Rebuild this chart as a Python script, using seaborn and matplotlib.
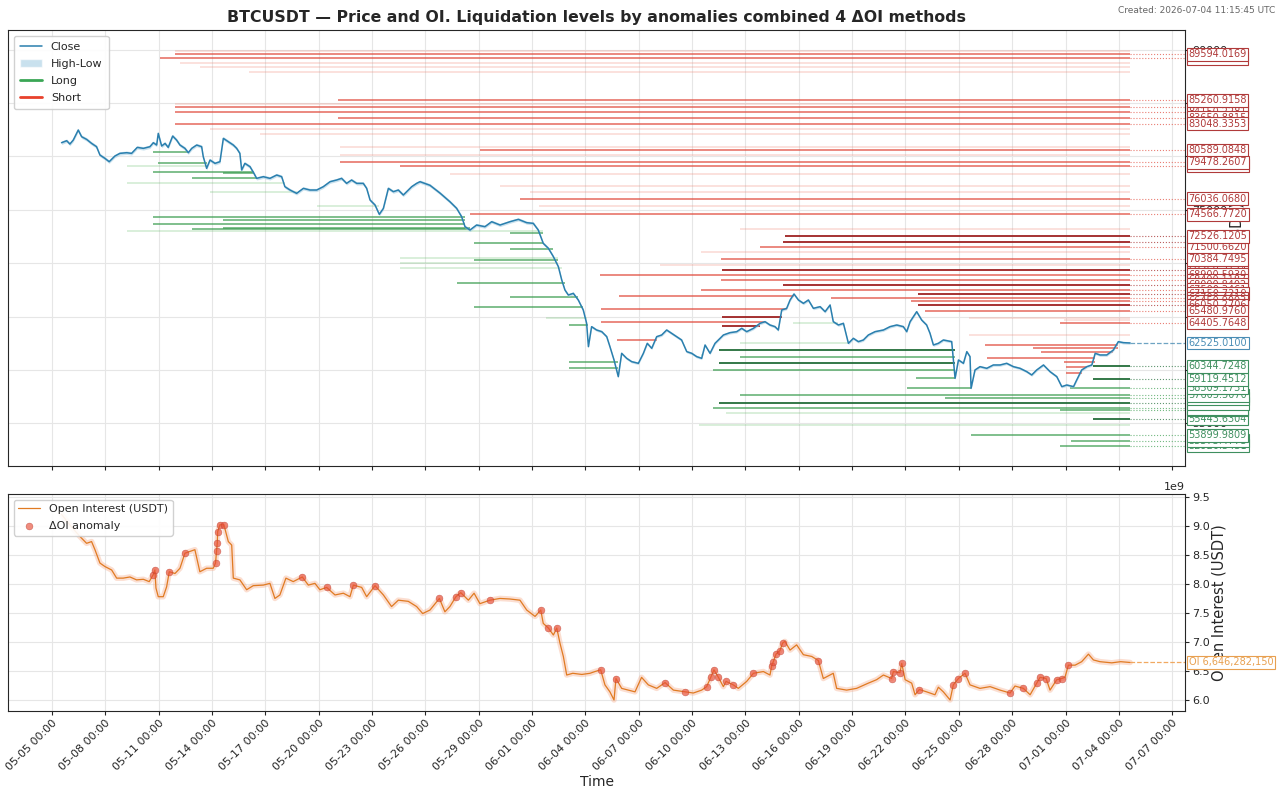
import numpy as np
import pandas as pd
import matplotlib
matplotlib.use("Agg")
import matplotlib.pyplot as plt
import matplotlib.dates as mdates
import matplotlib.transforms as mtransforms
from matplotlib.lines import Line2D
from matplotlib.patches import Patch
import seaborn as sns

# ---- data ----
base = pd.Timestamp("2026-05-05 00:00")

# close price: time in days since 05-05 00:00
price_days = [
    0.54, 0.83, 1.01, 1.20, 1.48, 1.67, 1.95, 2.23, 2.51, 2.70,
    2.98, 3.22, 3.54, 3.82, 4.20, 4.48, 4.80, 5.14, 5.51, 5.70,
    5.89, 5.98, 6.17, 6.36, 6.54, 6.79, 7.01, 7.20, 7.48, 7.67,
    7.86, 8.14, 8.42, 8.51, 8.70, 8.89, 9.17, 9.45, 9.64, 9.92,
    10.20, 10.39, 10.57, 10.67, 10.85, 11.14, 11.36, 11.51, 11.89, 12.26,
    12.64, 12.92, 13.10, 13.39, 13.76, 14.14, 14.51, 14.89, 15.26, 15.64,
    16.01, 16.29, 16.57, 16.85, 17.14, 17.51, 17.70, 17.89, 18.17, 18.41,
    18.64, 18.92, 19.20, 19.48, 19.76, 19.95, 20.23, 20.51, 20.70, 21.26,
    21.82, 22.38, 22.76, 23.04, 23.23, 23.51, 23.88, 24.35, 24.73, 25.20,
    25.76, 26.23, 26.70, 27.07, 27.35, 27.63, 27.92, 28.20, 28.48, 28.67,
    28.85, 29.04, 29.32, 29.60, 29.88, 30.07, 30.17, 30.35, 30.63, 30.92,
    31.20, 31.38, 31.61, 31.85, 32.04, 32.32, 32.60, 32.98, 33.26, 33.48,
    33.73, 34.01, 34.29, 34.57, 34.85, 35.13, 35.41, 35.70, 35.98, 36.26,
    36.54, 36.73, 37.01, 37.29, 37.76, 38.13, 38.51, 38.79, 39.07, 39.45,
    39.82, 40.10, 40.38,
    40.66, 40.85, 41.04, 41.32, 41.51, 41.73, 41.98, 42.26, 42.54, 42.82,
    43.20, 43.48, 43.76, 43.94, 44.23, 44.51, 44.79, 45.07, 45.35, 45.63,
    45.91, 46.29, 46.76, 47.13, 47.51, 47.88, 48.07, 48.26, 48.63, 48.91,
    49.19, 49.38, 49.57, 49.85, 50.13, 50.60, 50.79, 50.98, 51.26, 51.45,
    51.63, 51.69, 51.91, 52.19, 52.57, 52.94, 53.32, 53.69, 54.07, 54.44,
    54.82, 55.10, 55.38, 55.76, 56.13, 56.51, 56.79, 57.07, 57.45, 57.63,
    57.91, 58.20, 58.48, 58.67, 58.94, 59.32, 59.69, 59.97, 60.25, 60.63,
]
price_close = [
    81290, 81477, 81165, 81540, 82477, 81852, 81603, 81228, 80915, 80135,
    79823, 79510, 80041, 80291, 80353, 80291, 80853, 80760, 80915, 81290,
    81072, 82165, 80978, 81228, 80853, 81915, 81540, 81072, 80760, 80353,
    80760, 81072, 80915, 79979, 78886, 79667, 79355, 79510, 81697, 81384,
    81072, 80760, 80291, 78730, 79355, 79042, 78418, 77950, 78106, 77950,
    78262, 78106, 77169, 76857, 76545, 77013, 76857, 76857, 77169, 77637,
    77794, 77950, 77481, 77794, 77481, 77481, 77013, 75920, 75452, 74578,
    75140, 77013, 76701, 76857, 76389, 76701, 77169, 77481, 77637, 77300,
    76575, 75763, 75140, 74359, 73422, 73110, 73578, 73422, 73890, 73578,
    73890, 74109, 73797, 73734, 73110, 71861, 71393, 70612, 69675, 68425,
    67488, 67020, 67177, 66553, 65616, 64367, 62181, 64055, 63742, 63586,
    63118, 62181, 60932, 59371, 61557, 61089, 60777, 60621, 61557, 62494,
    62025, 63118, 63274, 63742, 63430, 63118, 62806, 61713, 61557, 61245,
    61089, 62338, 61557, 62494, 63274, 63492, 63586, 63898, 63586, 63898,
    64367, 64523, 64211,
    64055, 63742, 65616, 65772, 66553, 67115, 66553, 66241, 66553, 65772,
    65928, 65460, 66085, 64523, 64211, 64367, 62494, 62962, 62650, 62806,
    63274, 63586, 63742, 64055, 64211, 64055, 63586, 64523, 65460, 64678,
    64211, 63430, 62338, 62494, 62806, 62650, 59215, 60933, 60621, 61713,
    61245, 58279, 59996, 60308, 60152, 60465, 60465, 60621, 60308, 60152,
    59840, 59528, 59996, 60465, 59840, 59371, 58434, 58590, 58434, 59059,
    59996, 60308, 60465, 61557, 61401, 61401, 61869, 62650, 62556, 62525.01,
]

# open interest, billions USDT
oi_days = [
    0.54, 1.05, 1.57, 1.95, 2.23, 2.42, 2.70, 2.98, 3.36, 3.64,
    4.01, 4.39, 4.76, 5.14, 5.47, 5.70, 5.79, 5.85, 5.98, 6.26,
    6.45, 6.60, 6.92, 7.20, 7.48, 7.76, 8.04, 8.32, 8.70, 9.07,
    9.20, 9.26, 9.30, 9.32, 9.45, 9.67, 9.92, 10.11, 10.20, 10.57,
    10.95, 11.32, 11.89, 12.26, 12.54, 12.82, 13.16, 13.57, 14.08, 14.42,
    14.79, 15.07, 15.45, 15.92, 16.39, 16.76, 16.95, 17.42, 17.70, 18.17,
    18.64, 19.10, 19.48, 20.04, 20.51, 20.85, 21.26, 21.79, 22.10, 22.38,
    22.72, 22.99, 23.42, 23.74, 24.07, 24.63, 25.20, 25.76, 26.32, 26.70,
    27.17, 27.49, 27.63, 27.92, 28.20, 28.39, 28.57, 28.76, 28.95, 29.29,
    29.80, 30.26, 30.54, 30.86, 31.10, 31.38, 31.61, 31.72, 32.04, 32.41,
    32.79, 33.16, 33.54, 34.01, 34.48, 34.95, 35.60, 36.07, 36.54, 36.82,
    37.05, 37.23, 37.48, 37.76, 37.91, 38.32, 38.60, 39.07, 39.45, 40.01,
    40.38, 40.48, 40.57, 40.72, 40.94, 41.09, 41.22, 41.51, 41.88, 42.26,
    42.73, 43.10, 43.38, 43.94, 44.13, 44.69, 45.25, 45.91, 46.38, 46.76,
    47.22, 47.32, 47.69, 47.79, 47.98, 48.35, 48.54, 48.78, 49.19, 49.66,
    49.85, 50.13, 50.51, 50.69, 50.98, 51.35, 51.63, 52.19, 52.76, 53.32,
    53.88, 54.16, 54.63, 55.01, 55.38, 55.57, 55.91, 56.13, 56.51, 56.79,
    56.97, 57.16, 57.54, 57.91, 58.29, 58.57, 58.94, 59.60, 60.10, 60.63,
]
oi_values = [
    9.20, 9.00, 8.82, 8.70, 8.73, 8.59, 8.36, 8.30, 8.24, 8.10,
    8.10, 8.12, 8.07, 8.08, 8.04, 8.16, 8.24, 7.93, 7.78, 7.78,
    7.95, 8.21, 8.18, 8.27, 8.53, 8.56, 8.59, 8.21, 8.27, 8.27,
    8.36, 8.56, 8.71, 8.90, 9.02, 9.02, 8.73, 8.67, 8.10, 8.07,
    7.90, 7.97, 7.98, 8.01, 7.75, 7.81, 8.10, 8.04, 8.12, 7.98,
    8.01, 7.90, 7.94, 7.81, 7.84, 7.78, 7.98, 7.94, 7.78, 7.97,
    7.81, 7.61, 7.72, 7.70, 7.61, 7.49, 7.55, 7.75, 7.52, 7.61,
    7.78, 7.85, 7.72, 7.84, 7.66, 7.72, 7.75, 7.74, 7.72, 7.55,
    7.44, 7.55, 7.32, 7.24, 7.12, 7.24, 6.98, 6.75, 6.43, 6.46,
    6.44, 6.46, 6.49, 6.52, 6.26, 6.14, 6.00, 6.37, 6.20, 6.17,
    6.14, 6.39, 6.26, 6.20, 6.30, 6.17, 6.14, 6.12, 6.17, 6.23,
    6.39, 6.52, 6.39, 6.23, 6.32, 6.26, 6.20, 6.32, 6.46, 6.49,
    6.43, 6.59, 6.66, 6.79, 6.85, 6.98, 7.01, 6.86, 6.95, 6.78,
    6.75, 6.68, 6.37, 6.46, 6.20, 6.17, 6.20, 6.29, 6.35, 6.43,
    6.37, 6.49, 6.47, 6.63, 6.35, 6.29, 6.09, 6.18, 6.14, 6.09,
    6.22, 6.14, 6.00, 6.26, 6.37, 6.46, 6.26, 6.20, 6.23, 6.17,
    6.12, 6.24, 6.20, 6.09, 6.29, 6.39, 6.37, 6.17, 6.35, 6.37,
    6.39, 6.60, 6.60, 6.66, 6.79, 6.69, 6.66, 6.64, 6.66, 6.64628215,
]

# ΔOI anomaly points
anomaly_days = [
    5.70, 5.79, 6.60, 7.48, 9.20, 9.26, 9.30, 9.32, 9.45, 9.67,
    14.08, 15.45, 16.95, 18.17, 21.79, 22.72, 22.99, 24.63, 27.49, 27.92,
    28.39, 30.86, 31.72, 34.48, 35.60, 36.82, 37.05, 37.23, 37.48, 37.91,
    38.32, 39.45, 40.48, 40.57, 40.72, 40.94, 41.09, 43.10, 47.22, 47.32,
    47.69, 47.79, 48.78, 50.69, 50.98, 51.35, 53.88, 54.63, 55.38, 55.57,
    55.91, 56.51, 56.79, 57.16,
]
anomaly_oi = [
    8.16, 8.24, 8.21, 8.53, 8.36, 8.56, 8.71, 8.90, 9.02, 9.02,
    8.12, 7.94, 7.98, 7.97, 7.75, 7.78, 7.85, 7.72, 7.55, 7.24,
    7.24, 6.52, 6.37, 6.30, 6.14, 6.23, 6.39, 6.52, 6.39, 6.32,
    6.26, 6.46, 6.59, 6.66, 6.79, 6.85, 6.98, 6.68, 6.37, 6.49,
    6.47, 6.63, 6.18, 6.26, 6.37, 6.46, 6.12, 6.20, 6.29, 6.39,
    6.37, 6.35, 6.37, 6.60,
]

# liquidation levels: price, start (days), strength 1..3
short_price = [
    89900, 89594.0169, 89220.4420, 88800, 88350, 87950,
    85260.9158, 84900, 84604.7337, 84150.2281, 83650.8815, 83048.3353, 82600, 82150,
    80900, 80589.0848, 80150, 79478.2607, 79150.1452, 78400,
    77250, 76650, 76036.0680, 75400, 74566.7720,
    73200, 72526.1205, 71950.3318, 71500.6620, 71050, 70384.7495, 69800, 69350.2174,
    68900.5930, 68400.1187, 68000.8402, 67500.3461, 67150.7219, 66900, 66700.4418,
    66450.9093, 66050.2706, 65700, 65480.9760, 65000, 64900, 64650, 64405.7648,
    64520, 64118, 62806, 63274,
    62338, 62057, 61682, 61120, 60745, 60277, 59716,
]
short_start = [
    6.9, 6.9, 6.1, 7.2, 8.3, 11.1,
    16.1, 6.9, 6.9, 6.9, 16.1, 6.9, 8.9, 11.7,
    16.2, 24.1, 16.2, 16.2, 19.6, 22.4,
    25.2, 26.9, 26.3, 27.4, 23.5,
    38.7, 41.2, 41.1, 39.8, 36.5, 37.6, 34.2, 37.7,
    30.8, 37.6, 41.1, 36.5, 48.7, 31.9, 43.8,
    48.3, 48.7, 30.9, 49.1, 37.7, 51.6, 56.9, 56.7,
    30.9, 37.7, 31.8, 51.6,
    52.5, 55.2, 55.6, 52.6, 56.9, 57.0, 57.0,
]
short_strength = [
    1, 2, 2, 1, 1, 1,
    2, 1, 2, 2, 2, 2, 1, 1,
    1, 2, 1, 2, 2, 1,
    1, 1, 2, 1, 2,
    1, 3, 3, 2, 1, 2, 1, 3,
    2, 2, 3, 2, 3, 2, 2,
    2, 3, 2, 2, 3, 1, 1, 2,
    2, 3, 2, 1,
    2, 2, 2, 2, 2, 2, 2,
]

long_price = [
    80400, 79358, 79105, 78571, 78450, 77960, 77512, 76698, 75358,
    74357, 74044, 73645, 73300, 73200, 73050, 72800, 71864, 71302,
    70459, 70300, 69990, 69522, 68117, 66862, 65926, 64840, 64211,
    60773, 60155, 64400, 62498, 61869, 61400, 61185, 60623, 59995,
    59218, 58281,
    60344.7248, 59119.4512, 58309.1731, 57605.5070, 57345.2208, 56877.9135,
    56408.6642, 56249.0417, 55968, 55443.6304, 54846, 53899.9809,
    53373.4775, 52920.5431,
]
long_start = [
    5.7, 5.98, 4.2, 5.7, 9.64, 7.86, 4.2, 8.89, 14.9,
    5.7, 9.64, 5.7, 9.64, 7.86, 4.2, 25.76, 23.74, 25.76,
    19.6, 23.74, 19.6, 19.6, 22.8, 25.76, 23.74, 27.8, 29.1,
    29.1, 29.1, 41.7, 38.7, 37.5, 36.5, 38.7, 37.5, 37.2,
    48.6, 48.1,
    58.55, 58.55, 57.26, 38.7, 50.2, 37.5,
    37.2, 56.7, 37.9, 58.55, 36.4, 51.7,
    57.3, 56.7,
]
long_strength = [
    2, 2, 1, 2, 2, 2, 1, 1, 1,
    2, 2, 2, 2, 2, 1, 2, 2, 2,
    1, 2, 1, 1, 2, 2, 2, 1, 2,
    2, 2, 1, 1, 3, 1, 2, 3, 2,
    2, 2,
    3, 3, 2, 2, 2, 3,
    2, 2, 1, 3, 1, 2,
    2, 2,
]

# labels that sit on top of their neighbours in the picture
labels_on_top = [
    89594.0169, 85260.9158, 83048.3353, 80589.0848, 79478.2607, 76036.0680,
    74566.7720, 72526.1205, 70384.7495, 64405.7648, 60344.7248, 59119.4512,
    53899.9809,
]

assert len(price_days) == len(price_close)
assert len(oi_days) == len(oi_values)
assert len(anomaly_days) == len(anomaly_oi)
assert len(short_price) == len(short_start) == len(short_strength)
assert len(long_price) == len(long_start) == len(long_strength)


def to_dt(days):
    return base + pd.to_timedelta(np.asarray(days, dtype=float), unit="D")


close_days = np.array(price_days)
close = np.array(price_close, dtype=float)
price_df = pd.DataFrame({"time": to_dt(price_days), "close": close})
oi_df = pd.DataFrame({"time": to_dt(oi_days), "oi": np.array(oi_values) * 1e9})
anom_df = pd.DataFrame({"time": to_dt(anomaly_days), "oi": np.array(anomaly_oi) * 1e9})

HL_BAND = 0.002  # half-width of the high-low band drawn around close

CLOSE_C = "#2a7fae"
OI_C = "#e07b22"
SHORT_STYLE = {1: ("#f08a7a", 0.28, 1.3), 2: ("#e0493a", 0.70, 1.3), 3: ("#9c1c1c", 0.90, 1.4)}
LONG_STYLE = {1: ("#6cc070", 0.28, 1.3), 2: ("#3a9d4f", 0.70, 1.3), 3: ("#1d6a34", 0.90, 1.4)}
SHORT_LABEL_C = "#b03a3a"
LONG_LABEL_C = "#3f8f5f"

sns.set_style("whitegrid", {
    "axes.edgecolor": "0.15",
    "grid.color": "0.9",
    "xtick.bottom": True,
    "ytick.right": True,
})
plt.rcParams["font.family"] = ["DejaVu Sans"]
plt.rcParams["xtick.major.size"] = 3
plt.rcParams["ytick.major.size"] = 3
plt.rcParams["xtick.major.pad"] = 2
plt.rcParams["ytick.major.pad"] = 2

fig = plt.figure(figsize=(12.8, 8), dpi=100)
ax1 = fig.add_axes([8 / 1280, 1 - 466 / 800, 1177 / 1280, 436 / 800])
ax2 = fig.add_axes([8 / 1280, 1 - 711 / 800, 1177 / 1280, 217 / 800], sharex=ax1)

x_left = (base + pd.Timedelta(days=-2.47)).to_pydatetime()
x_right = (base + pd.Timedelta(days=63.72)).to_pydatetime()
last_dt = price_df["time"].iloc[-1].to_pydatetime()

# ---- price panel ----
ax1.fill_between(price_df["time"], close * (1 - HL_BAND), close * (1 + HL_BAND),
                 color="#a6cee3", alpha=0.6, lw=0, zorder=3)
sns.lineplot(data=price_df, x="time", y="close", ax=ax1, color=CLOSE_C, lw=1.1, zorder=4)

trans = mtransforms.blended_transform_factory(ax1.transAxes, ax1.transData)


def price_label(ax, value, text, color, z):
    ax.text(1.003, value, text, transform=trans, fontsize=7, color=color,
            va="center", ha="left", clip_on=False, zorder=z,
            bbox=dict(boxstyle="square,pad=0.15", fc="white", ec=color, lw=0.8))


def draw_levels(ax, prices, starts, strengths, style, is_short, label_c):
    for lvl, st, s in zip(prices, starts, strengths):
        after = close_days > st
        hit = after & ((close >= lvl) if is_short else (close <= lvl))
        active = not hit.any()
        end = close_days[-1] if active else close_days[np.argmax(hit)]
        color, alpha, lw = style[s]
        ax.hlines(lvl, to_dt([st])[0].to_pydatetime(), to_dt([end])[0].to_pydatetime(),
                  colors=color, alpha=alpha, lw=lw, zorder=1 + s * 0.1)
        if active and s >= 2:
            ax.hlines(lvl, last_dt, x_right, colors=color, linestyles=":", lw=0.8,
                      alpha=0.7, zorder=1)
            z = 7 if lvl in labels_on_top else 6
            price_label(ax, lvl, f"{lvl:.4f}", label_c, z)


draw_levels(ax1, short_price, short_start, short_strength, SHORT_STYLE, True, SHORT_LABEL_C)
order = np.argsort(long_price)
draw_levels(ax1, [long_price[i] for i in order], [long_start[i] for i in order],
            [long_strength[i] for i in order], LONG_STYLE, False, LONG_LABEL_C)

last_close = close[-1]
ax1.hlines(last_close, last_dt, x_right, colors="#4a8db5", linestyles="--", lw=0.9, alpha=0.8)
price_label(ax1, last_close, f"{last_close:.4f}", "#4a8db5", 7)

ax1.set_ylim(51000, 91850)
ax1.yaxis.tick_right()
ax1.yaxis.set_label_position("right")
ax1.set_ylabel("Price (USDT)", fontsize=10.5, labelpad=2)
ax1.set_xlabel("")
ax1.tick_params(axis="x", labelbottom=False)
ax1.tick_params(axis="y", labelsize=8)
ax1.set_title("BTCUSDT — Price and OI. Liquidation levels by anomalies combined 4 ΔOI methods",
              fontsize=11.3, fontweight="bold", pad=6)
ax1.legend(handles=[
    Line2D([0], [0], color=CLOSE_C, lw=1.1, label="Close"),
    Patch(facecolor="#a6cee3", alpha=0.6, label="High-Low"),
    Line2D([0], [0], color="#3aa655", lw=2, label="Long"),
    Line2D([0], [0], color="#e8412c", lw=2, label="Short"),
], loc="upper left", fontsize=8, framealpha=0.9, labelspacing=0.65, borderpad=0.55)

# ---- open interest panel ----
ax2.plot(oi_df["time"], oi_df["oi"], color="#f7ad8c", lw=4, alpha=0.4, zorder=2)
sns.lineplot(data=oi_df, x="time", y="oi", ax=ax2, color=OI_C, lw=0.9, zorder=3,
             label="Open Interest (USDT)")
sns.scatterplot(data=anom_df, x="time", y="oi", ax=ax2, color="#e8503a", alpha=0.65, s=24,
                edgecolor="#b8382a", linewidth=0.4, zorder=4, label="ΔOI anomaly")
last_oi = oi_df["oi"].iloc[-1]
ax2.hlines(last_oi, last_dt, x_right, colors="#f0a050", linestyles="--", lw=0.9, alpha=0.9)
trans2 = mtransforms.blended_transform_factory(ax2.transAxes, ax2.transData)
ax2.text(1.003, last_oi, f"OI {last_oi:,.0f}", transform=trans2, fontsize=7, color="#e8a050",
         va="center", ha="left", clip_on=False, zorder=6,
         bbox=dict(boxstyle="square,pad=0.15", fc="white", ec="#e8a050", lw=0.8))

ax2.set_ylim(5.81e9, 9.55e9)
ax2.yaxis.set_major_locator(matplotlib.ticker.MultipleLocator(0.5e9))
ax2.yaxis.tick_right()
ax2.yaxis.set_label_position("right")
ax2.set_ylabel("Open Interest (USDT)", fontsize=10.5, labelpad=2)
ax2.set_xlabel("Time", fontsize=10, labelpad=2)
ax2.tick_params(axis="y", labelsize=8)
ax2.yaxis.get_offset_text().set_fontsize(8)
ax2.legend(loc="upper left", fontsize=8, framealpha=0.9, labelspacing=0.65)

ticks = pd.date_range("2026-05-05", "2026-07-07", freq="3D")
ax2.set_xticks(ticks.to_pydatetime())
ax2.xaxis.set_major_formatter(mdates.DateFormatter("%m-%d %H:%M"))
ax2.set_xlim(x_left, x_right)
for lab in ax2.get_xticklabels():
    lab.set_rotation(45)
    lab.set_ha("right")
    lab.set_rotation_mode("anchor")
    lab.set_fontsize(8)

fig.text(0.996, 0.992, "Created: 2026-07-04 11:15:45 UTC", ha="right", va="top",
         fontsize=6.5, color="0.4")

fig.savefig("out.png", dpi=100)
